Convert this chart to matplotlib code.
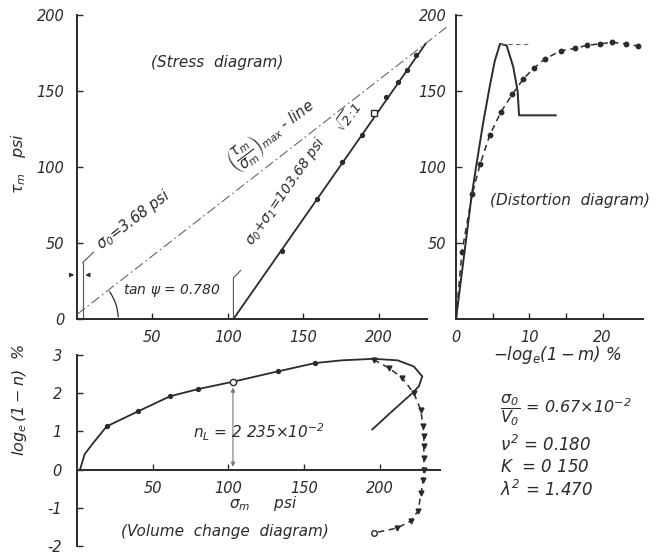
import matplotlib
matplotlib.use("Agg")
import matplotlib.pyplot as plt
from matplotlib.patches import Arc

plt.rcParams['font.family'] = ['DejaVu Sans']
plt.rcParams['font.style'] = 'italic'
plt.rcParams['mathtext.fontset'] = 'dejavusans'
plt.rcParams['mathtext.default'] = 'it'

INK = '#2b2b2b'

# ---------------- data ----------------
# Stress diagram
stress_line_x = [103.68, 231]
stress_line_y = [0, 181]
stress_pts_x = [136, 159, 175.5, 189, 205, 213, 218.5, 225]
stress_pts_y = [45, 79, 103, 121, 146, 156, 164, 174]
stress_sq_x = [197]
stress_sq_y = [135.5]
maxline_x = [0, 245]
maxline_y = [3, 192]

# Distortion diagram
dist_solid_x = [0, 1.0, 2.1, 2.8, 3.7, 4.6, 5.3, 6.0, 6.9, 7.8, 8.4, 8.6, 8.6, 13.6]
dist_solid_y = [0, 38, 80, 102, 129, 153, 170, 181, 180, 166, 150, 134, 134, 134]
dist_peak_x = [6.0, 9.8]
dist_peak_y = [181, 181]
dist_dash_x = [0, 0.8, 2.2, 3.3, 4.6, 6.1, 7.7, 9.2, 10.6, 12.1, 14.3, 16.2, 17.8, 19.6, 21.3, 23.2, 24.8]
dist_dash_y = [0, 44, 82, 102, 121, 136, 148, 158, 165, 171, 176.5, 178, 180, 181, 182, 181, 179.6]

# Volume change diagram
vol_solid_x = [2, 5, 10.8, 19.6, 40.6, 61.6, 80.3, 103.1, 132.7, 157.6, 175, 196, 212, 222.7, 228.3, 226, 221.7, 208.4, 195.2]
vol_solid_y = [0, 0.40, 0.70, 1.13, 1.53, 1.92, 2.11, 2.30, 2.57, 2.79, 2.86, 2.90, 2.86, 2.70, 2.44, 2.18, 2.0, 1.53, 1.05]
vol_pts_x = [19.6, 40.6, 61.6, 80.3, 132.7, 157.6]
vol_pts_y = [1.13, 1.53, 1.92, 2.11, 2.57, 2.79]
vol_open_x = [103.1]
vol_open_y = [2.30]
vol_dash_x = [196.2, 206.2, 215, 222.7, 227.2, 228.9, 229.3, 229.3, 229.3, 229.3, 228.9, 227.6, 225.4, 220.5, 211.7, 196.2]
vol_dash_y = [2.88, 2.66, 2.40, 2.0, 1.57, 1.13, 0.87, 0.61, 0.31, 0, -0.26, -0.61, -1.09, -1.35, -1.53, -1.66]

stress_xticks = [50, 100, 150, 200]
stress_yticks = [0, 50, 100, 150, 200]
dist_xticks = [0, 5, 10, 15, 20]
dist_xticklabels = ['0', '', '10', '', '20']
dist_yticks = [50, 100, 150, 200]
vol_xticks = [50, 100, 150, 200]
vol_yticks = [-2, -1, 0, 1, 2, 3]
vol_yticklabels = ['-2', '-1', '0', '1', '2', '3']

# ---------------- figure ----------------
W, H = 669, 555
fig = plt.figure(figsize=(W / 100, H / 100), dpi=100)
fig.patch.set_facecolor('white')


def style(ax):
    for s in ['top', 'right']:
        ax.spines[s].set_visible(False)
    for s in ['left', 'bottom']:
        ax.spines[s].set_linewidth(1.4)
        ax.spines[s].set_color(INK)
    ax.tick_params(direction='in', length=4, width=1.0, colors=INK, labelsize=10.5)
    ax.patch.set_alpha(0)


def italic_ticks(ax):
    for lbl in ax.get_xticklabels() + ax.get_yticklabels():
        lbl.set_fontstyle('italic')


# Stress diagram
ax1 = fig.add_axes([77 / W, 1 - 319 / H, 350 / W, 304 / H])
style(ax1)
ax1.set_xlim(0, 232)
ax1.set_ylim(0, 200)
ax1.set_xticks(stress_xticks)
ax1.set_yticks(stress_yticks)
ax1.tick_params(axis='x', pad=8)
ax1.tick_params(axis='y', pad=9)
ax1.plot(maxline_x, maxline_y, color='#666666', lw=0.8, ls=(0, (9, 3, 1.5, 3)), clip_on=False)
ax1.plot(stress_line_x, stress_line_y, color=INK, lw=1.3, clip_on=False)
ax1.plot(stress_pts_x, stress_pts_y, 'o', color=INK, ms=2.8, clip_on=False)
ax1.plot(stress_sq_x, stress_sq_y, 's', mfc='white', mec=INK, ms=4, mew=1.0)
# sigma0 dimension
ax1.plot([3.68, 3.68], [0, 37], color='#555555', lw=0.8)
ax1.plot([3.68, 11], [37, 44], color='#555555', lw=0.8)
ax1.annotate('', xy=(0, 29), xytext=(-7, 29),
             arrowprops=dict(arrowstyle='-|>', color=INK, lw=0.8, mutation_scale=6), annotation_clip=False)
ax1.annotate('', xy=(3.68, 29), xytext=(10, 29),
             arrowprops=dict(arrowstyle='-|>', color=INK, lw=0.8, mutation_scale=6))
# leader for sigma0+sigma1
ax1.plot([103.68, 103.68, 108.5], [0, 27, 32], color='#555555', lw=0.8)
# angle arc
ax1.add_patch(Arc((-3.68, 0), 62, 62, theta1=2, theta2=36, color=INK, lw=0.9))
ax1.text(92.7, 169, '(Stress  diagram)', ha='center', va='center', fontsize=11, color=INK)
ax1.text(37.7, 65, r'$\sigma_0$=3.68 psi', ha='center', va='center', rotation=37, fontsize=10.5, color=INK)
ax1.text(129, 121, r'$\left(\dfrac{\tau_m}{\sigma_m}\right)_{max}$ - line', ha='center', va='center',
         rotation=37, fontsize=10.5, color=INK)
ax1.text(63, 19, r'tan $\psi$ = 0.780', ha='center', va='center', fontsize=10, color=INK)
ax1.text(138, 84, r'$\sigma_0$+$\sigma_1$=103.68 psi', ha='center', va='center', rotation=55,
         fontsize=10, color=INK)
ax1.text(180, 133, r'$\sqrt{2}$:1', ha='center', va='center', rotation=55, fontsize=9.5, color=INK)
fig.text(18 / W, 1 - 163 / H, r'$\tau_m$   psi', rotation=90, ha='center', va='center',
         fontsize=11.5, color=INK)
italic_ticks(ax1)

# Distortion diagram
ax2 = fig.add_axes([456 / W, 1 - 319 / H, 187 / W, 304 / H])
style(ax2)
ax2.set_xlim(0, 25.5)
ax2.set_ylim(0, 200)
ax2.set_xticks(dist_xticks)
ax2.set_xticklabels(dist_xticklabels)
ax2.set_yticks(dist_yticks)
ax2.tick_params(axis='x', pad=8)
ax2.tick_params(axis='y', pad=7)
ax2.plot(dist_solid_x, dist_solid_y, color=INK, lw=1.4)
ax2.plot(dist_peak_x, dist_peak_y, color='#666666', lw=0.8, ls=(0, (4, 3)))
ax2.plot(dist_dash_x, dist_dash_y, color=INK, lw=1.1, ls=(0, (4, 3)))
ax2.plot(dist_dash_x[1:], dist_dash_y[1:], 'o', color=INK, ms=3.2, clip_on=False)
ax2.text(15.6, 78, '(Distortion  diagram)', ha='center', va='center', fontsize=11, color=INK)
fig.text(557 / W, 1 - 355 / H, r'$-log_e(1-m)$ %', ha='center', va='center', fontsize=12, color=INK)
italic_ticks(ax2)

# Parameters
px = 500 / W
fig.text(px, 1 - 410 / H, r'$\dfrac{\sigma_0}{V_0}$ = 0.67$\times$10$^{-2}$', ha='left', va='center',
         fontsize=11.5, color=INK)
fig.text(px, 1 - 445 / H, r'$\nu^2$ = 0.180', ha='left', va='center', fontsize=12, color=INK)
fig.text(px, 1 - 467 / H, r'$K$  = 0 150', ha='left', va='center', fontsize=12, color=INK)
fig.text(px, 1 - 490 / H, r'$\lambda^2$ = 1.470', ha='left', va='center', fontsize=12, color=INK)

# Volume change diagram
ax3 = fig.add_axes([77 / W, 1 - 546 / H, 363 / W, 191 / H])
style(ax3)
ax3.set_xlim(0, 240)
ax3.set_ylim(-2, 3)
ax3.spines['bottom'].set_position(('data', 0))
ax3.set_xticks(vol_xticks)
ax3.set_yticks(vol_yticks)
ax3.set_yticklabels(vol_yticklabels)
ax3.tick_params(axis='x', pad=8)
ax3.tick_params(axis='y', pad=11)
ax3.annotate('', xy=(103.1, 2.22), xytext=(103.1, 0),
             arrowprops=dict(arrowstyle='<|-|>', color='#777777', lw=0.8, mutation_scale=6))
ax3.plot(vol_solid_x, vol_solid_y, color=INK, lw=1.3)
ax3.plot(vol_pts_x, vol_pts_y, 'o', color=INK, ms=2.8)
ax3.plot(vol_open_x, vol_open_y, 'o', mfc='white', mec=INK, ms=4.5, mew=1.0)
ax3.plot(vol_dash_x, vol_dash_y, color=INK, lw=1.1, ls=(0, (4, 3)))
ax3.plot(vol_dash_x[:-1], vol_dash_y[:-1], 'v', color=INK, ms=3.5)
ax3.plot(vol_dash_x[-1:], vol_dash_y[-1:], 'o', mfc='white', mec=INK, ms=4, mew=1.0)
ax3.text(120, 0.97, r'$n_L$ = 2 235$\times$10$^{-2}$', ha='center', va='center', fontsize=11, color=INK)
ax3.text(123, -0.88, r'$\sigma_m$     psi', ha='center', va='center', fontsize=11, color=INK)
ax3.text(98, -1.62, '(Volume  change  diagram)', ha='center', va='center', fontsize=11, color=INK)
fig.text(20 / W, 1 - 400 / H, r'$log_e\,(1-n)$  %', rotation=90, ha='center', va='center',
         fontsize=11.5, color=INK)
italic_ticks(ax3)

fig.savefig('out.png', dpi=100, facecolor='white')
